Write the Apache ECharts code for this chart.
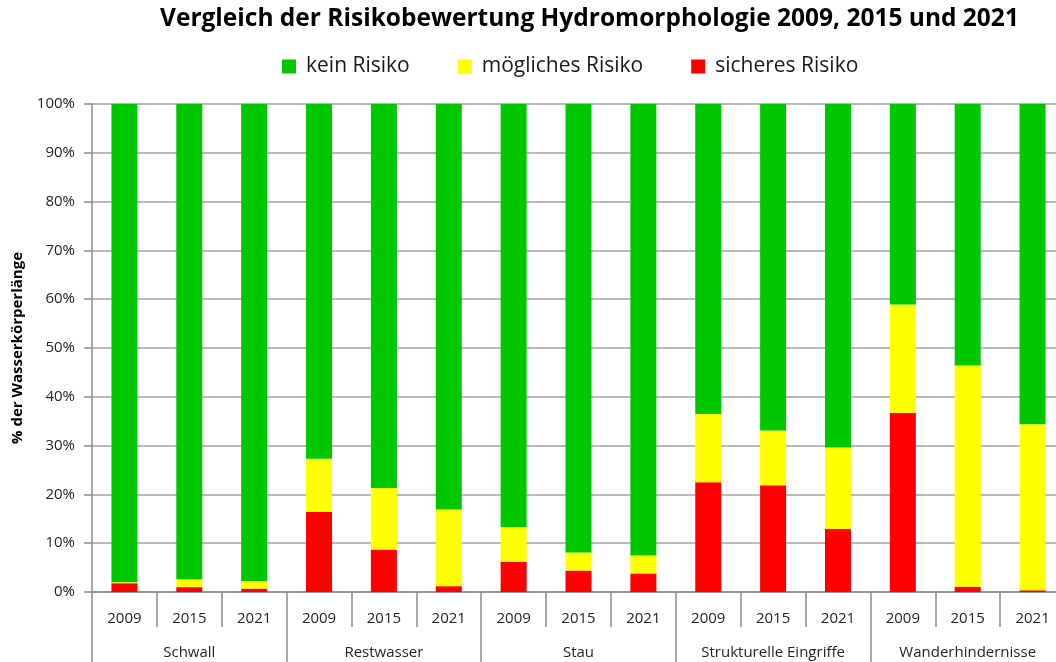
<!DOCTYPE html>
<html>
<head>
<meta charset="utf-8">
<script src="https://cdn.jsdelivr.net/npm/echarts@6/dist/echarts.min.js"></script>
<style>
html,body{margin:0;padding:0;background:#fff;}
#chart{width:1056px;height:662px;}
</style>
</head>
<body>
<div id="chart"></div>
<script>
const groups = ['Schwall', 'Restwasser', 'Stau', 'Strukturelle Eingriffe', 'Wanderhindernisse'];
const yearLabels = ['2009','2015','2021','2009','2015','2021','2009','2015','2021','2009','2015','2021','2009','2015','2021'];
const sicheresRisiko = [1.8, 1.0, 0.7, 16.4, 8.7, 1.2, 6.2, 4.4, 3.8, 22.5, 21.9, 12.9, 36.7, 1.1, 0.35];
const moeglichesRisiko = [0.2, 1.6, 1.55, 10.9, 12.6, 15.7, 7.1, 3.7, 3.7, 14.0, 11.2, 16.7, 22.2, 45.3, 34.05];
const keinRisiko = [98.0, 97.4, 97.75, 72.7, 78.7, 83.1, 86.7, 91.9, 92.5, 63.5, 66.9, 70.4, 41.1, 53.6, 65.6];
const yTicks = [0, 10, 20, 30, 40, 50, 60, 70, 80, 90, 100];

const FONT = '"Open Sans", "Liberation Sans", sans-serif';
const AXIS_GRAY = '#8c8c8c';
const chart = echarts.init(document.getElementById('chart'), null, {renderer: 'canvas'});
chart.setOption({
  animation: false,
  backgroundColor: '#ffffff',
  title: {
    text: 'Vergleich der Risikobewertung Hydromorphologie 2009, 2015 und 2021',
    left: 155, top: 2,
    textStyle: {fontFamily: FONT, fontWeight: 'bold', fontSize: 24.5, color: '#000'}
  },
  legend: {
    data: ['kein Risiko', 'mögliches Risiko', 'sicheres Risiko'],
    left: 277, top: 51,
    icon: 'rect', itemWidth: 14, itemHeight: 14, itemGap: 48,
    textStyle: {fontFamily: FONT, fontSize: 21, color: '#1a1a1a', padding: [0, 0, 0, 5]}
  },
  grid: {left: 92, width: 973, top: 104, height: 488, containLabel: false, outerBoundsMode: 'none'},
  xAxis: [
    {
      type: 'category', data: yearLabels, position: 'bottom',
      axisLine: {show: true, lineStyle: {color: AXIS_GRAY, width: 1.5}},
      axisTick: {show: true, interval: 0, length: 35, lineStyle: {color: AXIS_GRAY, width: 1.5}},
      axisLabel: {interval: 0, margin: 19, fontFamily: FONT, fontSize: 15, color: '#262626'}
    },
    {
      type: 'category', data: groups, position: 'bottom',
      axisLine: {show: false},
      axisTick: {show: true, interval: 0, length: 75, lineStyle: {color: AXIS_GRAY, width: 1.5}},
      axisLabel: {interval: 0, margin: 53, fontFamily: FONT, fontSize: 15, color: '#262626'}
    }
  ],
  yAxis: {
    type: 'value', min: 0, max: 100, interval: 10,
    name: '% der Wasserkörperlänge', nameLocation: 'middle', nameRotate: 90, nameGap: 67,
    nameTextStyle: {fontFamily: FONT, fontWeight: 'bold', fontSize: 15, color: '#000'},
    axisLine: {show: true, lineStyle: {color: AXIS_GRAY, width: 1.5}},
    axisTick: {show: true, length: 8, lineStyle: {color: AXIS_GRAY, width: 1.5}},
    axisLabel: {margin: 17, fontFamily: FONT, fontSize: 15, color: '#262626',
      formatter: v => (yTicks.indexOf(v) >= 0 ? v + '%' : '')},
    splitLine: {show: true, lineStyle: {color: '#a3a3a3', width: 1.5}}
  },
  series: [
    {name: 'sicheres Risiko', type: 'bar', stack: 'r', xAxisIndex: 0, barWidth: 26,
      itemStyle: {color: '#ff0000'}, data: sicheresRisiko},
    {name: 'mögliches Risiko', type: 'bar', stack: 'r', xAxisIndex: 0, barWidth: 26,
      itemStyle: {color: '#ffff00'}, data: moeglichesRisiko},
    {name: 'kein Risiko', type: 'bar', stack: 'r', xAxisIndex: 0, barWidth: 26,
      itemStyle: {color: '#00c800'}, data: keinRisiko}
  ]
});
</script>
</body>
</html>
